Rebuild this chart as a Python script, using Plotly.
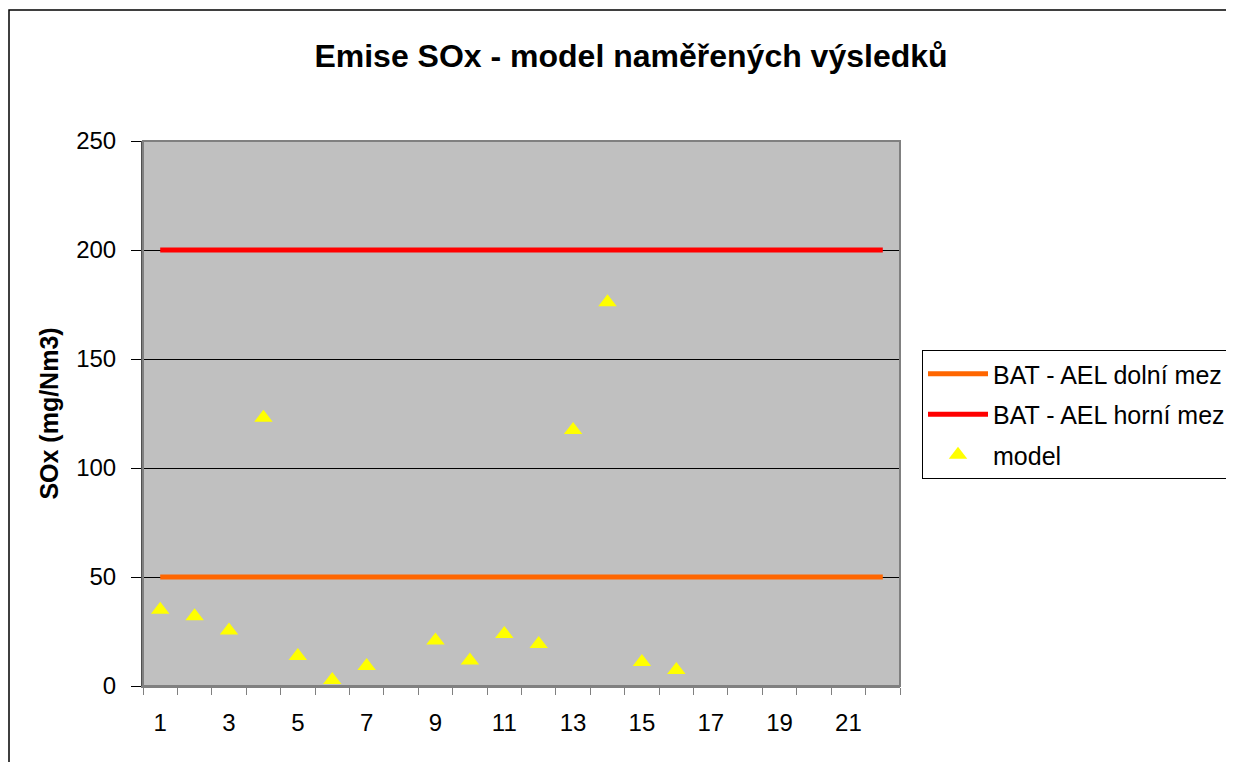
import plotly.graph_objects as go

categories = list(range(1, 23))
lower_limit = [50] * 22
upper_limit = [200] * 22
model_x = [1, 2, 3, 4, 5, 6, 7, 9, 10, 11, 12, 13, 14, 15, 16]
model_y = [35, 32, 25.5, 123, 13.8, 2.8, 9.2, 20.9, 11.7, 23.9, 19.3, 117.4, 176, 11, 7.3]
y_ticks = [0, 50, 100, 150, 200, 250]
x_tick_labels = [1, 3, 5, 7, 9, 11, 13, 15, 17, 19, 21]

FONT = "Liberation Sans, Arial, sans-serif"

# page body has an 8px margin, so the figure is drawn at (8, 8)
W, H = 1226, 754
PL, PR, PT, PB = 135, 892, 133, 678  # plot area in figure pixels
PW, PH = PR - PL, PB - PT

fig = go.Figure()
fig.add_trace(go.Scatter(x=categories, y=lower_limit, mode="lines",
                         name="BAT - AEL dolní mez", legendgroup="a",
                         line=dict(color="#FF6600", width=5)))
fig.add_trace(go.Scatter(x=categories, y=upper_limit, mode="lines",
                         name="BAT - AEL horní mez", legendgroup="b",
                         line=dict(color="#FF0000", width=5)))
fig.add_trace(go.Scatter(x=model_x, y=model_y, mode="markers", name="model",
                         legendgroup="c",
                         marker=dict(symbol="triangle-up", size=16, color="#FFFF00",
                                     line=dict(width=0))))

fig.update_layout(
    width=W, height=H,
    margin=dict(l=PL, r=W - PR, t=PT, b=H - PB, pad=0, autoexpand=False),
    paper_bgcolor="white",
    plot_bgcolor="#C0C0C0",
    font=dict(family=FONT, color="black", size=24),
    title=dict(text="<b>Emise SOx - model naměřených výsledků</b>",
               x=623 / W, xanchor="center", y=1 - 48 / H, yanchor="middle",
               font=dict(size=32, family=FONT)),
    showlegend=True,
    legend=dict(x=(914 - PL) / PW, xanchor="left", y=(PB - 342) / PH, yanchor="top",
                bordercolor="black", borderwidth=1, bgcolor="white",
                font=dict(size=25, family=FONT), tracegroupgap=5,
                itemwidth=60),
    xaxis=dict(range=[0.5, 22.5], tickvals=x_tick_labels, ticktext=[str(v) for v in x_tick_labels],
               ticks="", showgrid=False, zeroline=False,
               showline=True, linecolor="#808080", linewidth=2,
               tickfont=dict(size=24), ticklabelstandoff=14,
               minor=dict(tick0=0.5, dtick=1, ticks="outside", ticklen=7,
                          tickcolor="#808080", tickwidth=1, showgrid=False)),
    yaxis=dict(range=[0, 250], tickvals=y_ticks, ticks="outside", ticklen=10,
               tickcolor="black", showgrid=True, gridcolor="black", gridwidth=1,
               zeroline=False, showline=True, linecolor="#505050", linewidth=2,
               tickfont=dict(size=24), ticklabelstandoff=10,
               title=dict(text="<b>SOx (mg/Nm3)</b>", font=dict(size=25), standoff=10)),
)

# Plot area border
fig.add_shape(type="rect", xref="paper", yref="paper", x0=0, y0=0, x1=1, y1=1,
              line=dict(color="#808080", width=2), fillcolor="rgba(0,0,0,0)", layer="above")
# Outer chart border (cropped Excel chart)
fig.add_shape(type="rect", xref="paper", yref="paper",
              x0=(1 - PL) / PW, y0=-0.3, x1=1.6, y1=(PB - 2) / PH,
              line=dict(color="black", width=1.5), fillcolor="rgba(0,0,0,0)", layer="below")

fig.write_html("out.html")
